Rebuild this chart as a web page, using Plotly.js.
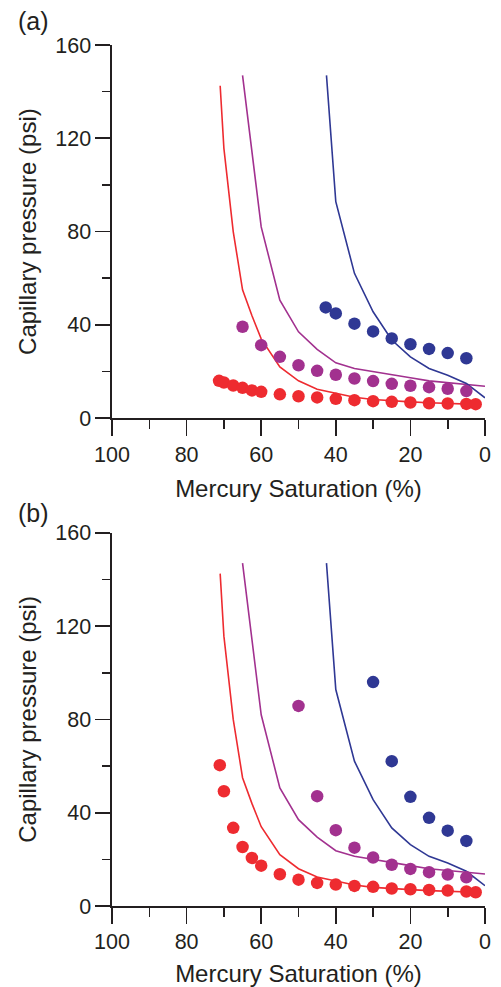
<!DOCTYPE html>
<html>
<head>
<meta charset="utf-8">
<script src="https://cdn.plot.ly/plotly-3.0.1.min.js"></script>
<style>html,body{margin:0;padding:0;background:#fff;}#chart{width:501px;height:987px;}</style>
</head>
<body>
<div id="chart"></div>
<script>
// Model curves (same in both panels)
const redLineX = [71, 70, 67.5, 65, 62.5, 60, 55, 50, 45, 40, 35, 30, 25, 20, 15, 10, 5, 2.5];
const redLineY = [142.5, 115.7, 80, 55, 44, 34, 22, 16, 12.4, 10.6, 9.0, 8.0, 7.4, 7.0, 6.6, 6.3, 6.0, 5.9];
const purpleLineX = [65, 60, 55, 50, 45, 40, 35, 30, 25, 20, 15, 10, 5, 0];
const purpleLineY = [147, 82, 50.6, 37, 29.5, 23.7, 21.3, 19.9, 18.4, 17.3, 16.0, 15.2, 14.5, 13.7];
const blueLineX = [42.5, 40, 35, 30, 25, 20, 15, 10, 5, 0];
const blueLineY = [147, 92.8, 62.1, 45.6, 33.5, 26.3, 21.3, 18.4, 14.9, 8.7];

// Panel (a) measured points
const aRedX = [71.3, 70, 67.5, 65, 62.5, 60, 55, 50, 45, 40, 35, 30, 25, 20, 15, 10, 5, 2.5];
const aRedY = [16.0, 15.3, 14.0, 13.0, 11.9, 11.3, 10.2, 9.4, 8.9, 8.3, 7.7, 7.3, 7.0, 6.7, 6.4, 6.3, 6.1, 6.0];
const aPurpleX = [65, 60, 55, 50, 45, 40, 35, 30, 25, 20, 15, 10, 5];
const aPurpleY = [39.2, 31.3, 26.3, 22.7, 20.3, 18.6, 17.0, 15.9, 14.7, 13.9, 13.3, 12.6, 11.6];
const aBlueX = [42.7, 40, 35, 30, 25, 20, 15, 10, 5];
const aBlueY = [47.5, 44.9, 40.5, 37.2, 34.2, 31.7, 29.7, 27.9, 25.7];

// Panel (b) measured points
const bRedX = [71.1, 70, 67.5, 65, 62.5, 60, 55, 50, 45, 40, 35, 30, 25, 20, 15, 10, 5, 2.5];
const bRedY = [60.4, 49.2, 33.5, 25.3, 20.6, 17.3, 13.6, 11.3, 9.9, 9.2, 8.6, 8.2, 7.5, 7.2, 6.9, 6.6, 6.2, 5.9];
const bPurpleX = [50, 45, 40, 35, 30, 25, 20, 15, 10, 5];
const bPurpleY = [85.8, 47.1, 32.5, 25.0, 20.8, 17.7, 15.9, 14.5, 13.5, 12.3];
const bBlueX = [30, 25, 20, 15, 10, 5];
const bBlueY = [96.0, 62.1, 46.8, 37.8, 32.3, 27.9];

const xTickVals = [100, 80, 60, 40, 20, 0];
const yTickVals = [0, 40, 80, 120, 160];
const panelLabels = ['(a)', '(b)'];

const RED = '#EE2B30', PURPLE = '#A2318F', BLUE = '#2F3894';
const INK = '#231F20';
const FONT = 'Liberation Sans, Arial, Helvetica, sans-serif';

function line(x, y, c, xa, ya) {
  return {x: x, y: y, xaxis: xa, yaxis: ya, mode: 'lines', type: 'scatter',
    line: {color: c, width: 1.6}, hoverinfo: 'skip'};
}
function pts(x, y, c, xa, ya) {
  return {x: x, y: y, xaxis: xa, yaxis: ya, mode: 'markers', type: 'scatter',
    marker: {color: c, size: 12.5, line: {width: 0}}, cliponaxis: false};
}

const data = [
  line(redLineX, redLineY, RED, 'x', 'y'),
  line(purpleLineX, purpleLineY, PURPLE, 'x', 'y'),
  line(blueLineX, blueLineY, BLUE, 'x', 'y'),
  pts(aRedX, aRedY, RED, 'x', 'y'),
  pts(aPurpleX, aPurpleY, PURPLE, 'x', 'y'),
  pts(aBlueX, aBlueY, BLUE, 'x', 'y'),
  line(redLineX, redLineY, RED, 'x2', 'y2'),
  line(purpleLineX, purpleLineY, PURPLE, 'x2', 'y2'),
  line(blueLineX, blueLineY, BLUE, 'x2', 'y2'),
  pts(bRedX, bRedY, RED, 'x2', 'y2'),
  pts(bPurpleX, bPurpleY, PURPLE, 'x2', 'y2'),
  pts(bBlueX, bBlueY, BLUE, 'x2', 'y2')
];

function xAxis(anchor) {
  return {
    anchor: anchor, range: [100, 0], autorange: false,
    tickmode: 'array', tickvals: xTickVals, ticktext: xTickVals.map(String),
    ticks: 'outside', ticklen: 16, tickwidth: 1.6, tickcolor: INK,
    minor: {dtick: 10, tick0: 0, ticks: 'outside', ticklen: 9, tickwidth: 1.6, tickcolor: INK, showgrid: false},
    showline: true, linecolor: INK, linewidth: 1.6, showgrid: false, zeroline: false,
    tickfont: {family: FONT, size: 21.5, color: INK},
    title: {text: 'Mercury Saturation (%)', font: {family: FONT, size: 24, color: INK}, standoff: 14}
  };
}
function yAxis(anchor, dom) {
  return {
    anchor: anchor, domain: dom, range: [0, 160], autorange: false,
    tickmode: 'array', tickvals: yTickVals, ticktext: yTickVals.map(String),
    ticks: 'outside', ticklen: 15, tickwidth: 1.6, tickcolor: INK,
    minor: {dtick: 20, tick0: 0, ticks: 'outside', ticklen: 8, tickwidth: 1.6, tickcolor: INK, showgrid: false},
    showline: true, linecolor: INK, linewidth: 1.6, showgrid: false, zeroline: false,
    tickfont: {family: FONT, size: 21.5, color: INK},
    title: {text: 'Capillary pressure (psi)', font: {family: FONT, size: 24, color: INK}, standoff: 12}
  };
}

const layout = {
  width: 501, height: 987,
  margin: {l: 112, r: 16, t: 45, b: 81},
  paper_bgcolor: '#fff', plot_bgcolor: '#fff',
  showlegend: false,
  xaxis: xAxis('y'),
  yaxis: yAxis('x', [0.5666, 1]),
  xaxis2: xAxis('y2'),
  yaxis2: yAxis('x2', [0, 0.4334]),
  annotations: [
    {text: panelLabels[0], xref: 'paper', yref: 'paper', x: -0.258, y: 1.0, xanchor: 'left', yanchor: 'bottom', yshift: 8,
     showarrow: false, font: {family: FONT, size: 25, color: INK}},
    {text: panelLabels[1], xref: 'paper', yref: 'paper', x: -0.258, y: 0.4334, xanchor: 'left', yanchor: 'bottom', yshift: 4,
     showarrow: false, font: {family: FONT, size: 25, color: INK}}
  ]
};

Plotly.newPlot('chart', data, layout, {displayModeBar: false, staticPlot: true});
</script>
</body>
</html>
